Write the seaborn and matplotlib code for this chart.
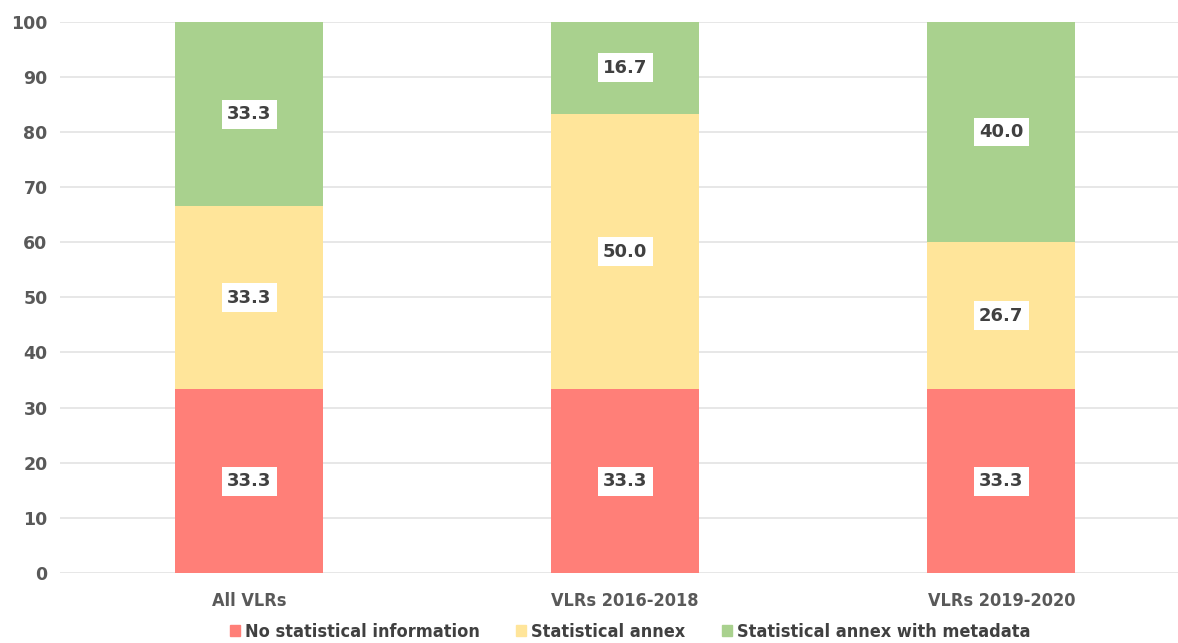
import matplotlib
matplotlib.use("Agg")
import matplotlib.pyplot as plt
import seaborn as sns
import pandas as pd
import numpy as np

categories = ["All VLRs", "VLRs 2016-2018", "VLRs 2019-2020"]
series_names = ["No statistical information", "Statistical annex", "Statistical annex with metadata"]
no_info = [33.3, 33.3, 33.3]
annex = [33.3, 50.0, 26.7]
annex_meta = [33.3, 16.7, 40.0]
colors = ["#FF7F78", "#FFE59A", "#A9D18E"]

sns.set_theme(style="white")
plt.rcParams['font.family'] = ['DejaVu Sans']

fig = plt.figure(figsize=(11.78, 6.43), dpi=100)
ax = fig.add_axes([0.051, 0.109, 0.949, 0.857])

values = [no_info, annex, annex_meta]
bottom = np.zeros(len(categories))
for name, vals, col in zip(series_names, values, colors):
    df = pd.DataFrame({"cat": categories, "val": vals})
    sns.barplot(data=df, x="cat", y="val", color=col, width=0.394, saturation=1,
                bottom=bottom, ax=ax, linewidth=0, zorder=3)
    for i, v in enumerate(vals):
        ax.text(i, bottom[i] + v / 2, f"{v:.1f}", ha="center", va="center",
                fontsize=13, fontweight="bold", color="#404040", zorder=5,
                bbox=dict(boxstyle="square,pad=0.3", fc="white", ec="none"))
    bottom = bottom + np.array(vals)

ax.set_ylim(0, 100)
ax.set_xlim(-0.503, 2.47)
ax.set_yticks(range(0, 101, 10))
ax.yaxis.grid(True, color="#E3E3E3", linewidth=1.2, zorder=0)
ax.set_axisbelow(True)
for s in ax.spines.values():
    s.set_visible(False)
ax.set_xlabel("")
ax.set_ylabel("")
ax.tick_params(axis="both", length=0)
ax.tick_params(axis="y", pad=9)
ax.tick_params(axis="x", pad=14)
for lab in ax.get_yticklabels():
    lab.set_fontweight("bold")
    lab.set_color("#595959")
    lab.set_fontsize(12.5)
for lab in ax.get_xticklabels():
    lab.set_fontweight("bold")
    lab.set_color("#595959")
    lab.set_fontstretch("condensed")
    lab.set_fontsize(13)

handles = [plt.Rectangle((0, 0), 1, 1, color=c) for c in colors]
fig.legend(handles, series_names, loc="lower center", bbox_to_anchor=(0.535, -0.022),
           ncol=3, frameon=False, handlelength=0.55, handleheight=0.55, handletextpad=0.3,
           columnspacing=2.0,
           prop={"weight": "bold", "size": 13, "stretch": "condensed"},
           labelcolor="#404040")

fig.savefig("out.png", dpi=100)
